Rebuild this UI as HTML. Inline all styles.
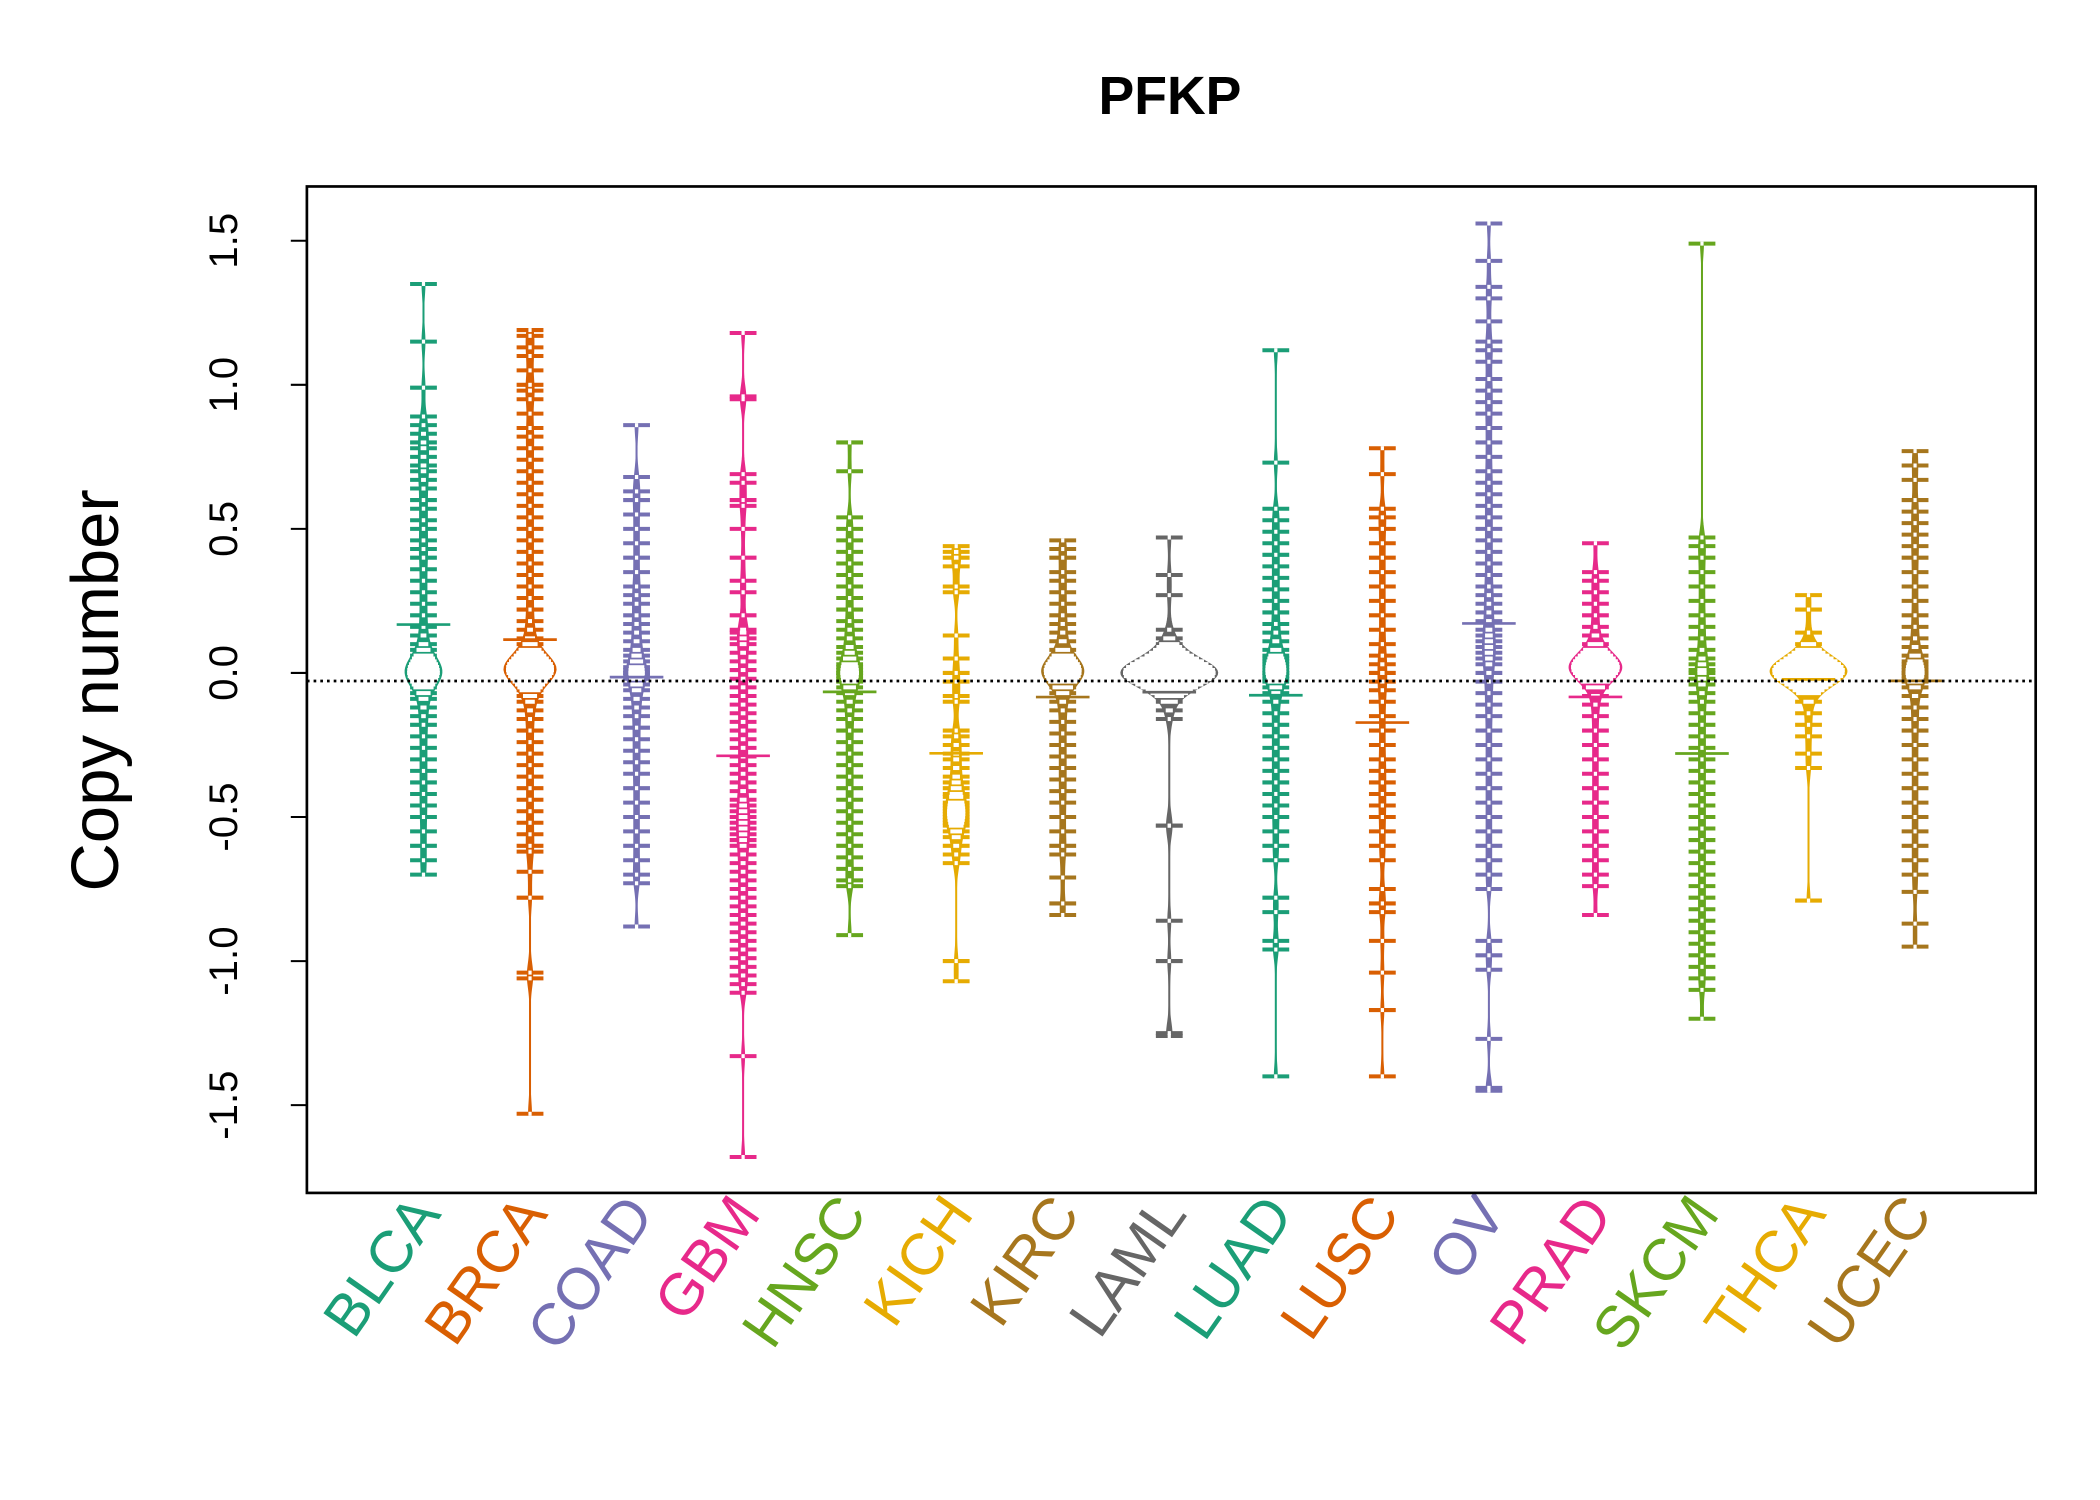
<!DOCTYPE html>
<html><head><meta charset="utf-8"><style>
html,body{margin:0;padding:0;background:#fff;}
svg{display:block;font-family:"Liberation Sans",sans-serif;}
</style></head><body>
<svg id="chart" width="2100" height="1500" viewBox="0 0 1567 1119" xmlns="http://www.w3.org/2000/svg">
<rect x="0" y="0" width="1567" height="1119" fill="#fff"/>
<text x="873" y="85" font-size="40" font-weight="bold" text-anchor="middle">PFKP</text>
<text transform="translate(88,515) rotate(-90)" font-size="50" text-anchor="middle">Copy number</text>
<defs><clipPath id="plotclip"><rect x="229" y="139" width="1290" height="751"/></clipPath></defs>
<g id="beans" clip-path="url(#plotclip)"></g>
<g id="axes"></g>
<rect x="229" y="139" width="1290" height="751" fill="none" stroke="#000" stroke-width="2"/>
</svg>
<script>
const categories=["BLCA","BRCA","COAD","GBM","HNSC","KICH","KIRC","LAML","LUAD","LUSC","OV","PRAD","SKCM","THCA","UCEC"];
const colors=["#1B9E77","#D95F02","#7570B3","#E7298A","#66A61E","#E6AB02","#A6761D","#666666","#1B9E77","#D95F02","#7570B3","#E7298A","#66A61E","#E6AB02","#A6761D"];
const yTicks=[-1.5,-1.0,-0.5,0.0,0.5,1.0,1.5];
const yTickLabels=["-1.5","-1.0","-0.5","0.0","0.5","1.0","1.5"];
const overallLine=-0.028;
const BLCA=[1.35,1.15,0.99,0.89,0.86,0.83,0.8,0.78,0.75,0.72,0.7,0.67,0.64,0.6,0.57,0.53,0.5,0.46,0.43,0.4,0.36,0.32,0.28,0.24,0.2,0.16,0.13,0.1,0.08,0.06,0.05,0.04,0.03,0.02,0.02,0.01,0.01,0,0,0,-0.01,-0.01,-0.02,-0.03,-0.04,-0.05,-0.07,-0.09,-0.12,-0.15,-0.18,-0.22,-0.26,-0.3,-0.34,-0.38,-0.42,-0.46,-0.5,-0.55,-0.6,-0.65,-0.7];
const BRCA=[1.19,1.17,1.13,1.1,1.05,1.0,0.98,0.95,0.9,0.85,0.82,0.78,0.74,0.7,0.66,0.62,0.58,0.54,0.5,0.46,0.42,0.38,0.34,0.3,0.26,0.22,0.18,0.15,0.12,0.1,0.08,0.07,0.06,0.05,0.04,0.04,0.03,0.03,0.03,0.02,0.02,0.02,0.01,0.01,0.01,0,0,0,0,-0.01,-0.01,-0.02,-0.03,-0.04,-0.05,-0.06,-0.08,-0.1,-0.13,-0.16,-0.2,-0.24,-0.28,-0.32,-0.36,-0.4,-0.44,-0.48,-0.52,-0.56,-0.6,-0.62,-0.69,-0.78,-1.04,-1.06,-1.53];
const COAD=[0.86,0.68,0.63,0.6,0.55,0.5,0.45,0.4,0.35,0.3,0.27,0.24,0.2,0.17,0.14,0.11,0.08,0.06,0.04,0.02,0.01,0,0,-0.01,-0.02,-0.04,-0.06,-0.09,-0.12,-0.15,-0.19,-0.23,-0.27,-0.31,-0.35,-0.4,-0.45,-0.5,-0.55,-0.6,-0.65,-0.7,-0.73,-0.88];
const GBM=[1.18,0.96,0.95,0.69,0.66,0.6,0.58,0.5,0.4,0.32,0.28,0.2,0.15,0.14,0.12,0.1,0.07,0.04,0.01,-0.02,-0.05,-0.08,-0.11,-0.14,-0.17,-0.2,-0.23,-0.26,-0.29,-0.32,-0.35,-0.38,-0.41,-0.44,-0.46,-0.48,-0.5,-0.52,-0.54,-0.56,-0.58,-0.6,-0.63,-0.66,-0.69,-0.72,-0.75,-0.78,-0.81,-0.84,-0.87,-0.9,-0.93,-0.96,-0.99,-1.02,-1.05,-1.08,-1.11,-1.33,-1.68];
const HNSC=[0.8,0.7,0.54,0.5,0.46,0.42,0.38,0.34,0.3,0.26,0.22,0.18,0.15,0.12,0.09,0.07,0.05,0.03,0.02,0.01,0,0,-0.01,-0.02,-0.03,-0.05,-0.07,-0.1,-0.13,-0.16,-0.2,-0.24,-0.28,-0.32,-0.36,-0.4,-0.44,-0.48,-0.52,-0.56,-0.6,-0.64,-0.68,-0.72,-0.74,-0.91];
const KICH=[0.44,0.42,0.4,0.37,0.3,0.28,0.13,0.05,0,-0.03,-0.08,-0.1,-0.2,-0.22,-0.25,-0.28,-0.3,-0.33,-0.36,-0.38,-0.4,-0.42,-0.43,-0.45,-0.46,-0.47,-0.48,-0.49,-0.5,-0.51,-0.52,-0.53,-0.55,-0.57,-0.6,-0.63,-0.66,-1.0,-1.07];
const KIRC=[0.46,0.43,0.4,0.35,0.32,0.28,0.24,0.2,0.17,0.14,0.11,0.08,0.06,0.05,0.04,0.03,0.03,0.02,0.02,0.01,0.01,0,0,0,0,-0.01,-0.01,-0.02,-0.02,-0.03,-0.05,-0.07,-0.1,-0.13,-0.17,-0.21,-0.25,-0.29,-0.33,-0.37,-0.41,-0.45,-0.5,-0.55,-0.6,-0.63,-0.71,-0.8,-0.84];
const LAML=[0.47,0.34,0.27,0.15,0.12,0.1,0.09,0.08,0.07,0.06,0.05,0.05,0.04,0.04,0.03,0.03,0.03,0.02,0.02,0.02,0.02,0.01,0.01,0.01,0.01,0.01,0,0,0,0,0,0,0,0,0,0,-0.01,-0.01,-0.01,-0.01,-0.01,-0.02,-0.02,-0.02,-0.02,-0.03,-0.03,-0.03,-0.04,-0.04,-0.05,-0.05,-0.06,-0.07,-0.08,-0.1,-0.13,-0.16,-0.53,-0.53,-0.86,-1.0,-1.25,-1.26];
const LUAD=[1.12,0.73,0.57,0.53,0.49,0.45,0.41,0.37,0.33,0.29,0.25,0.21,0.17,0.14,0.11,0.08,0.06,0.05,0.04,0.03,0.02,0.01,0,0,-0.01,-0.02,-0.03,-0.05,-0.07,-0.1,-0.14,-0.18,-0.22,-0.26,-0.3,-0.34,-0.38,-0.42,-0.46,-0.5,-0.55,-0.6,-0.65,-0.78,-0.83,-0.93,-0.96,-1.4];
const LUSC=[0.78,0.69,0.57,0.54,0.5,0.45,0.4,0.35,0.3,0.25,0.2,0.15,0.1,0.06,0.03,0,-0.03,-0.06,-0.1,-0.15,-0.2,-0.25,-0.3,-0.34,-0.38,-0.42,-0.46,-0.5,-0.55,-0.6,-0.65,-0.75,-0.8,-0.83,-0.93,-1.04,-1.17,-1.4];
const OV=[1.56,1.43,1.34,1.3,1.22,1.15,1.12,1.08,1.02,0.98,0.94,0.9,0.85,0.8,0.75,0.7,0.66,0.62,0.58,0.54,0.5,0.46,0.42,0.38,0.34,0.3,0.27,0.24,0.21,0.18,0.15,0.13,0.11,0.09,0.07,0.05,0.03,0,-0.03,-0.07,-0.11,-0.15,-0.2,-0.25,-0.3,-0.35,-0.4,-0.45,-0.5,-0.55,-0.6,-0.65,-0.7,-0.75,-0.93,-0.98,-1.03,-1.27,-1.44,-1.45];
const PRAD=[0.45,0.35,0.32,0.28,0.24,0.2,0.16,0.13,0.1,0.08,0.07,0.06,0.05,0.05,0.04,0.04,0.03,0.03,0.03,0.02,0.02,0.02,0.02,0.01,0.01,0.01,0,0,0,-0.01,-0.01,-0.02,-0.03,-0.05,-0.08,-0.11,-0.15,-0.2,-0.25,-0.3,-0.35,-0.4,-0.45,-0.5,-0.55,-0.6,-0.65,-0.7,-0.74,-0.84];
const SKCM=[1.49,0.47,0.44,0.4,0.35,0.3,0.25,0.2,0.16,0.12,0.08,0.05,0.03,0.01,0,-0.02,-0.04,-0.07,-0.1,-0.14,-0.18,-0.22,-0.26,-0.3,-0.34,-0.38,-0.42,-0.46,-0.5,-0.54,-0.58,-0.62,-0.66,-0.7,-0.74,-0.78,-0.82,-0.86,-0.9,-0.94,-0.98,-1.02,-1.06,-1.1,-1.2];
const THCA=[0.27,0.22,0.14,0.1,0.08,0.07,0.06,0.05,0.05,0.04,0.04,0.03,0.03,0.03,0.02,0.02,0.02,0.02,0.01,0.01,0.01,0.01,0,0,0,0,0,0,0,-0.01,-0.01,-0.01,-0.01,-0.02,-0.02,-0.02,-0.03,-0.03,-0.04,-0.05,-0.06,-0.07,-0.1,-0.14,-0.18,-0.22,-0.28,-0.33,-0.79];
const UCEC=[0.77,0.72,0.67,0.6,0.56,0.52,0.48,0.44,0.4,0.35,0.3,0.25,0.2,0.16,0.12,0.09,0.06,0.04,0.03,0.02,0.01,0,0,-0.01,-0.02,-0.03,-0.05,-0.08,-0.12,-0.16,-0.2,-0.25,-0.3,-0.35,-0.4,-0.45,-0.5,-0.55,-0.6,-0.65,-0.7,-0.76,-0.87,-0.95];
const series=[BLCA,BRCA,COAD,GBM,HNSC,KICH,KIRC,LAML,LUAD,LUSC,OV,PRAD,SKCM,THCA,UCEC];

const NS="http://www.w3.org/2000/svg";
const X0=229,X1=1519;
function yScale(v){return 502 - v*215;}
function xScale(i){return 316 + i*79.5;}
function mk(tag,attrs,parent){const e=document.createElementNS(NS,tag);for(const k in attrs)e.setAttribute(k,attrs[k]);parent.appendChild(e);return e;}
const beans=document.getElementById('beans');
const axes=document.getElementById('axes');

mk('line',{x1:X0,x2:X0,y1:yScale(1.5),y2:yScale(-1.5),stroke:'#000','stroke-width':1.5},axes);
yTicks.forEach((t,i)=>{
  const tk=mk('line',{x1:X0-12,x2:X0,y1:yScale(t),y2:yScale(t),stroke:'#000','stroke-width':1.5},axes);
  
  
  const tl=mk('text',{transform:`translate(177,${yScale(t)}) rotate(-90)`,'font-size':30,'text-anchor':'middle'},axes);
  tl.textContent=yTickLabels[i];
  
  
});

const bw=0.04;
function dens(vals,y){let s=0;for(const v of vals){const z=(y-v)/bw;s+=Math.exp(-0.5*z*z);}return s/(bw*Math.sqrt(2*Math.PI));}
const profiles=series.map(vals=>{
  const mn=Math.min(...vals),mx=Math.max(...vals);const pts=[];
  for(let k=0;k<=240;k++){const y=mx-(mx-mn)*k/240;pts.push([y,dens(vals,y)]);}
  return pts;
});
let gmax=0;profiles.forEach(p=>p.forEach(q=>{if(q[1]>gmax)gmax=q[1];}));
const maxHalf=36;

series.forEach((vals,i)=>{
  const cx=xScale(i),col=colors[i];
  const g=mk('g',{},beans);
  
  
  const mn=Math.min(...vals),mx=Math.max(...vals);
  mk('line',{x1:cx,x2:cx,y1:yScale(mx),y2:yScale(mn),stroke:col,'stroke-width':1.5},g);
  const p=profiles[i];
  let path='';
  p.forEach((q,k)=>{const w=q[1]/gmax*maxHalf;path+=(k?'L':'M')+(cx+w).toFixed(2)+','+yScale(q[0]).toFixed(2);});
  for(let k=p.length-1;k>=0;k--){const w=p[k][1]/gmax*maxHalf;path+='L'+(cx-w).toFixed(2)+','+yScale(p[k][0]).toFixed(2);}
  path+='Z';
  const poly=mk('path',{d:path,fill:col,stroke:col,'stroke-width':1},g);
  
  
  vals.forEach(v=>{
    const d=mk('line',{x1:cx-10,x2:cx+10,y1:yScale(v),y2:yScale(v),stroke:col,'stroke-width':3},g);
    
    
  });
  vals.forEach(v=>{
    const w=Math.max(dens(vals,v)/gmax*maxHalf-1.5,1.2);
    const d=mk('line',{x1:cx-w,x2:cx+w,y1:yScale(v),y2:yScale(v),stroke:'#fff','stroke-width':3},g);
    
    
  });
  const mean=vals.reduce((a,b)=>a+b,0)/vals.length;
  const ml=mk('line',{x1:cx-20,x2:cx+20,y1:yScale(mean),y2:yScale(mean),stroke:col,'stroke-width':2},g);
  
  
  const lab=mk('text',{transform:`translate(${cx+14},${906}) rotate(-55)`,'font-size':44,'text-anchor':'end',fill:col},axes);
  lab.textContent=categories[i];
  
  
});
const ol=mk('line',{x1:X0,x2:X1,y1:yScale(overallLine),y2:yScale(overallLine),stroke:'#000','stroke-width':2,'stroke-dasharray':'2,3'},beans);


</script>
</body></html>
